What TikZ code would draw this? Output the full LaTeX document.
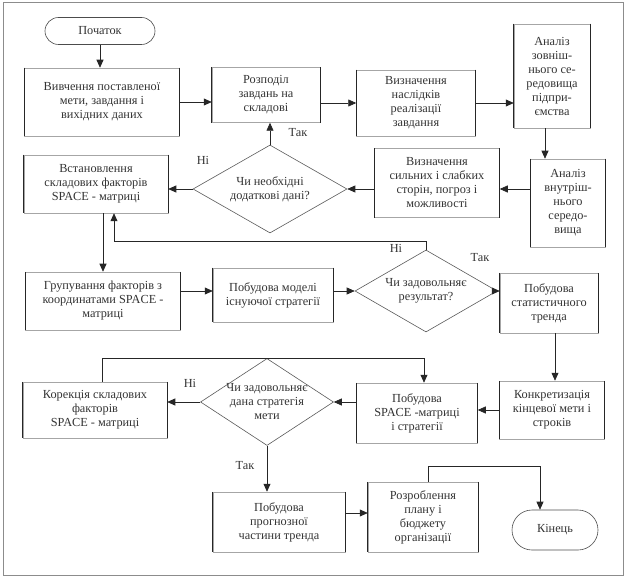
\documentclass[tikz,border=0pt]{standalone}
\usepackage{fontspec}
\setmainfont{Liberation Serif}
\usetikzlibrary{shapes.geometric,shapes.misc,arrows.meta}
\begin{document}
\begin{tikzpicture}[x=1pt,y=-1pt,
  txt/.style={font=\fontsize{12.3}{14}\selectfont, text=black!80, align=center, inner sep=0pt},
  box/.style={txt, rectangle, draw=black!35, line width=0.5pt},
  term/.style={txt, rounded rectangle, draw=black!70, line width=0.6pt},
  dia/.style={diamond, draw=black!65, line width=0.6pt, inner sep=0pt},
  side/.style={black!85, line width=0.8pt},
  arr/.style={-{Triangle[length=8pt,width=7pt]}, line width=0.7pt, black!85},
  lab/.style={txt}]
\useasboundingbox (0,0) rectangle (626,577);
\draw[black!45, line width=0.6pt] (3,2) rectangle (623,575);

\node[term, minimum width=110, minimum height=27] (start) at (100,31) {Початок};
\node[box, minimum width=155, minimum height=68] (viv) at (102,102) {Вивчення поставленої\\мети, завдання і\\вихідних даних};
\node[box, minimum width=108, minimum height=55] (rozp) at (266,95) {Розподіл\\завдань на\\складові};
\node[box, minimum width=119, minimum height=66] (vn) at (416,103) {Визначення\\наслідків\\реалізації\\завдання};
\node[box, minimum width=76, minimum height=104] (zovn) at (552,76) {Аналіз\\зовніш-\\нього се-\\редовища\\підпри-\\ємства};
\node[box, minimum width=144, minimum height=58] (vst) at (96,184) {Встановлення\\складових факторів\\SPACE - матриці};
\node[dia, minimum width=154, minimum height=88] (d1) at (270,189) {};
\node[txt] (d1t) at (270,189) {Чи необхідні\\додаткові дані?};
\node[box, minimum width=125, minimum height=69] (syl) at (437,183) {Визначення\\сильних і слабких\\сторін, погроз і\\можливості};
\node[box, minimum width=75, minimum height=88] (vnutr) at (568,203) {Аналіз\\внутріш-\\нього\\середо-\\вища};
\node[box, minimum width=155, minimum height=58] (grup) at (103,301) {Групування факторів з\\координатами SPACE -\\матриці};
\node[box, minimum width=120, minimum height=54] (model) at (273,295) {Побудова моделі\\існуючої стратегії};
\node[dia, minimum width=142, minimum height=82] (d2) at (426,291) {};
\node[txt] (d2t) at (426,291) {Чи задовольняє\\результат?};
\node[box, minimum width=98, minimum height=60] (stat) at (549,303) {Побудова\\статистичного\\тренда};
\node[box, minimum width=144, minimum height=56] (kor) at (95,410) {Корекція складових\\факторів\\SPACE - матриці};
\node[dia, minimum width=133, minimum height=87] (d3) at (267,402) {};
\node[txt] (d3t) at (267,402) {Чи задовольняє\\дана стратегія\\мети};
\node[box, minimum width=121, minimum height=60] (pspace) at (417,413) {Побудова\\SPACE -матриці\\і стратегії};
\node[box, minimum width=105, minimum height=58] (konkr) at (552,410) {Конкретизація\\кінцевої мети і\\строків};
\node[box, minimum width=132, minimum height=60] (prog) at (279,522) {Побудова\\прогнозної\\частини тренда};
\node[box, minimum width=110, minimum height=70] (rozr) at (423,517) {Розроблення\\плану і\\бюджету\\організації};
\node[term, minimum width=86, minimum height=40] (kon) at (555,530) {Кінець};

\foreach \n in {viv,rozp,vn,zovn,vst,syl,vnutr,grup,model,stat,kor,pspace,konkr,prog,rozr}
  \draw[side] (\n.north west) -- (\n.south west) (\n.north east) -- (\n.south east);

% connectors
\draw[arr] (start.south) -- (start.south |- viv.north);
\draw[arr] (viv.east) -- (viv.east -| rozp.west);
\draw[arr] (rozp.east |- vn.west) -- (vn.west);
\draw[arr] (vn.east) -- (vn.east -| zovn.west);
\draw[arr] ([xshift=-7pt]zovn.south) -- ([xshift=-7pt]zovn.south |- vnutr.north);
\draw[arr] (vnutr.west |- d1.east) -- (syl.east |- d1.east);
\draw[arr] (syl.west |- d1.east) -- (d1.east);
\draw[arr] (d1.north) -- (d1.north |- rozp.south);
\draw[arr] (d1.west) -- (d1.west -| vst.east);
\draw[arr] (vst.south -| grup.north) -- (grup.north);
\draw[arr] (grup.east |- d2.west) -- (model.west |- d2.west);
\draw[arr] (model.east |- d2.west) -- (d2.west);
\draw[arr] (d2.east) -- (d2.east -| stat.west);
\draw[arr] (d2.north) -- ++(0,-8) -| ([xshift=18pt]vst.south);
\draw[arr] ([xshift=6pt]stat.south) -- ([xshift=6pt]stat.south |- konkr.north);
\draw[arr] (konkr.west) -- (konkr.west -| pspace.east);
\draw[arr] (pspace.west |- d3.east) -- (d3.east);
\draw[arr] (d3.west) -- (d3.west -| kor.east);
\draw[arr] ([xshift=7pt]kor.north) |- (d3.north) -| ([xshift=7pt]pspace.north);
\draw[arr] (d3.south) -- (d3.south |- prog.north);
\draw[arr] ([yshift=9pt]prog.east) -- ([yshift=9pt]prog.east -| rozr.west);
\draw[arr] ([xshift=5pt]rozr.north) -- ++(0,-15) -| ([xshift=-15pt]kon.north);

% labels
\node[lab] (l1) at (298,133) {Так};
\node[lab] (l2) at (203,160) {Ні};
\node[lab] (l3) at (396,248) {Ні};
\node[lab] (l4) at (480,258) {Так};
\node[lab] (l5) at (190,383) {Ні};
\node[lab] (l6) at (245,466) {Так};
\end{tikzpicture}
\end{document}
